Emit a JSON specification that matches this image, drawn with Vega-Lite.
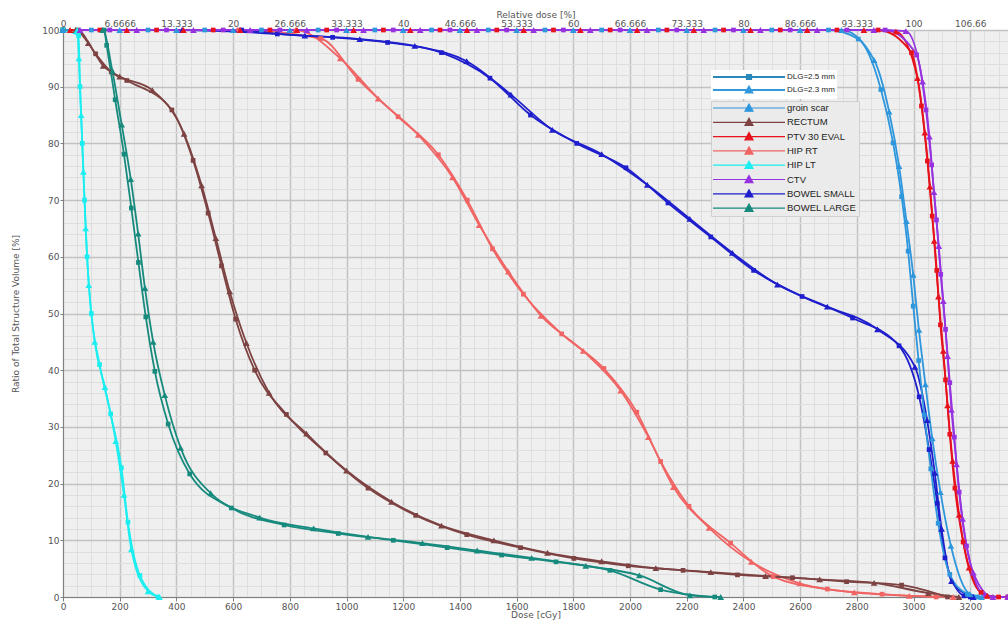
{
  "$schema": "https://vega.github.io/schema/vega-lite/v6.json",
  "width": 945,
  "height": 567,
  "autosize": {"type": "none"},
  "padding": {"left": 63, "top": 30, "right": 0, "bottom": 23},
  "background": "white",
  "config": {
    "view": {"fill": "#efefef", "stroke": null},
    "axis": {"labelFont": "DejaVu Sans", "titleFont": "DejaVu Sans", "labelFontSize": 9, "titleFontSize": 9, "labelColor": "#555555", "titleColor": "#555555", "titleFontWeight": "normal", "domainColor": "#808080", "tickColor": "#808080"},
    "legend": {"labelFont": "Liberation Sans"}
  },
  "data": {"values": [
    {"structure":"HIP RT","dlg":"DLG=2.3 mm","dose":0,"volume":100},
    {"structure":"HIP RT","dlg":"DLG=2.3 mm","dose":420,"volume":100},
    {"structure":"HIP RT","dlg":"DLG=2.3 mm","dose":820,"volume":100},
    {"structure":"HIP RT","dlg":"DLG=2.3 mm","dose":978,"volume":95},
    {"structure":"HIP RT","dlg":"DLG=2.3 mm","dose":1112,"volume":87.9},
    {"structure":"HIP RT","dlg":"DLG=2.3 mm","dose":1253,"volume":81.5},
    {"structure":"HIP RT","dlg":"DLG=2.3 mm","dose":1374,"volume":74},
    {"structure":"HIP RT","dlg":"DLG=2.3 mm","dose":1468,"volume":65.6},
    {"structure":"HIP RT","dlg":"DLG=2.3 mm","dose":1571,"volume":57.4},
    {"structure":"HIP RT","dlg":"DLG=2.3 mm","dose":1686,"volume":49.6},
    {"structure":"HIP RT","dlg":"DLG=2.3 mm","dose":1835,"volume":43.4},
    {"structure":"HIP RT","dlg":"DLG=2.3 mm","dose":1967,"volume":36.4},
    {"structure":"HIP RT","dlg":"DLG=2.3 mm","dose":2065,"volume":28.2},
    {"structure":"HIP RT","dlg":"DLG=2.3 mm","dose":2153,"volume":19.4},
    {"structure":"HIP RT","dlg":"DLG=2.3 mm","dose":2279,"volume":12.2},
    {"structure":"HIP RT","dlg":"DLG=2.3 mm","dose":2428,"volume":6.2},
    {"structure":"HIP RT","dlg":"DLG=2.3 mm","dose":2599,"volume":2.4},
    {"structure":"HIP RT","dlg":"DLG=2.3 mm","dose":2791,"volume":0.8},
    {"structure":"HIP RT","dlg":"DLG=2.3 mm","dose":2985,"volume":0.2},
    {"structure":"HIP RT","dlg":"DLG=2.3 mm","dose":3140,"volume":0},
    {"structure":"HIP RT","dlg":"DLG=2.5 mm","dose":0,"volume":100},
    {"structure":"HIP RT","dlg":"DLG=2.5 mm","dose":620,"volume":100},
    {"structure":"HIP RT","dlg":"DLG=2.5 mm","dose":909,"volume":98.5},
    {"structure":"HIP RT","dlg":"DLG=2.5 mm","dose":1041,"volume":91.3},
    {"structure":"HIP RT","dlg":"DLG=2.5 mm","dose":1182,"volume":84.7},
    {"structure":"HIP RT","dlg":"DLG=2.5 mm","dose":1324,"volume":78},
    {"structure":"HIP RT","dlg":"DLG=2.5 mm","dose":1426,"volume":70},
    {"structure":"HIP RT","dlg":"DLG=2.5 mm","dose":1515,"volume":61.4},
    {"structure":"HIP RT","dlg":"DLG=2.5 mm","dose":1624,"volume":53.4},
    {"structure":"HIP RT","dlg":"DLG=2.5 mm","dose":1759,"volume":46.4},
    {"structure":"HIP RT","dlg":"DLG=2.5 mm","dose":1908,"volume":40.3},
    {"structure":"HIP RT","dlg":"DLG=2.5 mm","dose":2024,"volume":32.6},
    {"structure":"HIP RT","dlg":"DLG=2.5 mm","dose":2108,"volume":23.9},
    {"structure":"HIP RT","dlg":"DLG=2.5 mm","dose":2208,"volume":16},
    {"structure":"HIP RT","dlg":"DLG=2.5 mm","dose":2355,"volume":9.5},
    {"structure":"HIP RT","dlg":"DLG=2.5 mm","dose":2505,"volume":3.6},
    {"structure":"HIP RT","dlg":"DLG=2.5 mm","dose":2696,"volume":1.4},
    {"structure":"HIP RT","dlg":"DLG=2.5 mm","dose":2889,"volume":0.5},
    {"structure":"HIP RT","dlg":"DLG=2.5 mm","dose":3080,"volume":0},
    {"structure":"BOWEL SMALL","dlg":"DLG=2.3 mm","dose":0,"volume":100},
    {"structure":"BOWEL SMALL","dlg":"DLG=2.3 mm","dose":420,"volume":100},
    {"structure":"BOWEL SMALL","dlg":"DLG=2.3 mm","dose":853,"volume":99},
    {"structure":"BOWEL SMALL","dlg":"DLG=2.3 mm","dose":1047,"volume":98.4},
    {"structure":"BOWEL SMALL","dlg":"DLG=2.3 mm","dose":1241,"volume":97.2},
    {"structure":"BOWEL SMALL","dlg":"DLG=2.3 mm","dose":1424,"volume":94.5},
    {"structure":"BOWEL SMALL","dlg":"DLG=2.3 mm","dose":1580,"volume":88.6},
    {"structure":"BOWEL SMALL","dlg":"DLG=2.3 mm","dose":1726,"volume":82.4},
    {"structure":"BOWEL SMALL","dlg":"DLG=2.3 mm","dose":1900,"volume":78.1},
    {"structure":"BOWEL SMALL","dlg":"DLG=2.3 mm","dose":2061,"volume":72.7},
    {"structure":"BOWEL SMALL","dlg":"DLG=2.3 mm","dose":2211,"volume":66.7},
    {"structure":"BOWEL SMALL","dlg":"DLG=2.3 mm","dose":2361,"volume":60.7},
    {"structure":"BOWEL SMALL","dlg":"DLG=2.3 mm","dose":2520,"volume":55.1},
    {"structure":"BOWEL SMALL","dlg":"DLG=2.3 mm","dose":2696,"volume":51.2},
    {"structure":"BOWEL SMALL","dlg":"DLG=2.3 mm","dose":2873,"volume":47.2},
    {"structure":"BOWEL SMALL","dlg":"DLG=2.3 mm","dose":3005,"volume":40.6},
    {"structure":"BOWEL SMALL","dlg":"DLG=2.3 mm","dose":3048,"volume":31.2},
    {"structure":"BOWEL SMALL","dlg":"DLG=2.3 mm","dose":3075,"volume":21.9},
    {"structure":"BOWEL SMALL","dlg":"DLG=2.3 mm","dose":3099,"volume":12},
    {"structure":"BOWEL SMALL","dlg":"DLG=2.3 mm","dose":3134,"volume":2.8},
    {"structure":"BOWEL SMALL","dlg":"DLG=2.3 mm","dose":3211,"volume":0},
    {"structure":"BOWEL SMALL","dlg":"DLG=2.5 mm","dose":0,"volume":100},
    {"structure":"BOWEL SMALL","dlg":"DLG=2.5 mm","dose":630,"volume":100},
    {"structure":"BOWEL SMALL","dlg":"DLG=2.5 mm","dose":756,"volume":99.3},
    {"structure":"BOWEL SMALL","dlg":"DLG=2.5 mm","dose":951,"volume":98.7},
    {"structure":"BOWEL SMALL","dlg":"DLG=2.5 mm","dose":1145,"volume":97.8},
    {"structure":"BOWEL SMALL","dlg":"DLG=2.5 mm","dose":1335,"volume":96},
    {"structure":"BOWEL SMALL","dlg":"DLG=2.5 mm","dose":1506,"volume":91.5},
    {"structure":"BOWEL SMALL","dlg":"DLG=2.5 mm","dose":1649,"volume":85},
    {"structure":"BOWEL SMALL","dlg":"DLG=2.5 mm","dose":1812,"volume":80},
    {"structure":"BOWEL SMALL","dlg":"DLG=2.5 mm","dose":1986,"volume":75.7},
    {"structure":"BOWEL SMALL","dlg":"DLG=2.5 mm","dose":2134,"volume":69.5},
    {"structure":"BOWEL SMALL","dlg":"DLG=2.5 mm","dose":2285,"volume":63.5},
    {"structure":"BOWEL SMALL","dlg":"DLG=2.5 mm","dose":2436,"volume":57.6},
    {"structure":"BOWEL SMALL","dlg":"DLG=2.5 mm","dose":2607,"volume":53},
    {"structure":"BOWEL SMALL","dlg":"DLG=2.5 mm","dose":2785,"volume":49.2},
    {"structure":"BOWEL SMALL","dlg":"DLG=2.5 mm","dose":2949,"volume":44.3},
    {"structure":"BOWEL SMALL","dlg":"DLG=2.5 mm","dose":3020,"volume":35.3},
    {"structure":"BOWEL SMALL","dlg":"DLG=2.5 mm","dose":3055,"volume":26},
    {"structure":"BOWEL SMALL","dlg":"DLG=2.5 mm","dose":3084,"volume":16.5},
    {"structure":"BOWEL SMALL","dlg":"DLG=2.5 mm","dose":3111,"volume":6.9},
    {"structure":"BOWEL SMALL","dlg":"DLG=2.5 mm","dose":3178,"volume":0.2},
    {"structure":"BOWEL SMALL","dlg":"DLG=2.5 mm","dose":3200,"volume":0},
    {"structure":"RECTUM","dlg":"DLG=2.3 mm","dose":0,"volume":100},
    {"structure":"RECTUM","dlg":"DLG=2.3 mm","dose":45,"volume":100},
    {"structure":"RECTUM","dlg":"DLG=2.3 mm","dose":89,"volume":97.7},
    {"structure":"RECTUM","dlg":"DLG=2.3 mm","dose":142,"volume":93.7},
    {"structure":"RECTUM","dlg":"DLG=2.3 mm","dose":200,"volume":91.8},
    {"structure":"RECTUM","dlg":"DLG=2.3 mm","dose":315,"volume":89.4},
    {"structure":"RECTUM","dlg":"DLG=2.3 mm","dose":427,"volume":81.7},
    {"structure":"RECTUM","dlg":"DLG=2.3 mm","dose":489,"volume":72.6},
    {"structure":"RECTUM","dlg":"DLG=2.3 mm","dose":539,"volume":63.3},
    {"structure":"RECTUM","dlg":"DLG=2.3 mm","dose":588,"volume":53.9},
    {"structure":"RECTUM","dlg":"DLG=2.3 mm","dose":647,"volume":44.8},
    {"structure":"RECTUM","dlg":"DLG=2.3 mm","dose":727,"volume":36},
    {"structure":"RECTUM","dlg":"DLG=2.3 mm","dose":859,"volume":28.8},
    {"structure":"RECTUM","dlg":"DLG=2.3 mm","dose":1000,"volume":22.3},
    {"structure":"RECTUM","dlg":"DLG=2.3 mm","dose":1159,"volume":16.8},
    {"structure":"RECTUM","dlg":"DLG=2.3 mm","dose":1335,"volume":12.6},
    {"structure":"RECTUM","dlg":"DLG=2.3 mm","dose":1520,"volume":10},
    {"structure":"RECTUM","dlg":"DLG=2.3 mm","dose":1709,"volume":7.8},
    {"structure":"RECTUM","dlg":"DLG=2.3 mm","dose":1900,"volume":6.3},
    {"structure":"RECTUM","dlg":"DLG=2.3 mm","dose":2091,"volume":5.1},
    {"structure":"RECTUM","dlg":"DLG=2.3 mm","dose":2285,"volume":4.4},
    {"structure":"RECTUM","dlg":"DLG=2.3 mm","dose":2478,"volume":3.7},
    {"structure":"RECTUM","dlg":"DLG=2.3 mm","dose":2669,"volume":3.1},
    {"structure":"RECTUM","dlg":"DLG=2.3 mm","dose":2861,"volume":2.5},
    {"structure":"RECTUM","dlg":"DLG=2.3 mm","dose":3052,"volume":0.7},
    {"structure":"RECTUM","dlg":"DLG=2.3 mm","dose":3160,"volume":0},
    {"structure":"RECTUM","dlg":"DLG=2.5 mm","dose":0,"volume":100},
    {"structure":"RECTUM","dlg":"DLG=2.5 mm","dose":50,"volume":100},
    {"structure":"RECTUM","dlg":"DLG=2.5 mm","dose":115,"volume":95.8},
    {"structure":"RECTUM","dlg":"DLG=2.5 mm","dose":170,"volume":92.6},
    {"structure":"RECTUM","dlg":"DLG=2.5 mm","dose":225,"volume":91.1},
    {"structure":"RECTUM","dlg":"DLG=2.5 mm","dose":384,"volume":85.9},
    {"structure":"RECTUM","dlg":"DLG=2.5 mm","dose":459,"volume":77},
    {"structure":"RECTUM","dlg":"DLG=2.5 mm","dose":512,"volume":67.7},
    {"structure":"RECTUM","dlg":"DLG=2.5 mm","dose":559,"volume":58.4},
    {"structure":"RECTUM","dlg":"DLG=2.5 mm","dose":609,"volume":49},
    {"structure":"RECTUM","dlg":"DLG=2.5 mm","dose":676,"volume":40},
    {"structure":"RECTUM","dlg":"DLG=2.5 mm","dose":788,"volume":32.2},
    {"structure":"RECTUM","dlg":"DLG=2.5 mm","dose":927,"volume":25.4},
    {"structure":"RECTUM","dlg":"DLG=2.5 mm","dose":1076,"volume":19.2},
    {"structure":"RECTUM","dlg":"DLG=2.5 mm","dose":1244,"volume":14.4},
    {"structure":"RECTUM","dlg":"DLG=2.5 mm","dose":1424,"volume":11},
    {"structure":"RECTUM","dlg":"DLG=2.5 mm","dose":1614,"volume":8.7},
    {"structure":"RECTUM","dlg":"DLG=2.5 mm","dose":1802,"volume":6.8},
    {"structure":"RECTUM","dlg":"DLG=2.5 mm","dose":1994,"volume":5.5},
    {"structure":"RECTUM","dlg":"DLG=2.5 mm","dose":2187,"volume":4.7},
    {"structure":"RECTUM","dlg":"DLG=2.5 mm","dose":2379,"volume":3.9},
    {"structure":"RECTUM","dlg":"DLG=2.5 mm","dose":2573,"volume":3.4},
    {"structure":"RECTUM","dlg":"DLG=2.5 mm","dose":2764,"volume":2.7},
    {"structure":"RECTUM","dlg":"DLG=2.5 mm","dose":2958,"volume":2.1},
    {"structure":"RECTUM","dlg":"DLG=2.5 mm","dose":3120,"volume":0},
    {"structure":"BOWEL LARGE","dlg":"DLG=2.3 mm","dose":0,"volume":100},
    {"structure":"BOWEL LARGE","dlg":"DLG=2.3 mm","dose":140,"volume":100},
    {"structure":"BOWEL LARGE","dlg":"DLG=2.3 mm","dose":174,"volume":92.8},
    {"structure":"BOWEL LARGE","dlg":"DLG=2.3 mm","dose":207,"volume":83.3},
    {"structure":"BOWEL LARGE","dlg":"DLG=2.3 mm","dose":239,"volume":73.7},
    {"structure":"BOWEL LARGE","dlg":"DLG=2.3 mm","dose":265,"volume":64.1},
    {"structure":"BOWEL LARGE","dlg":"DLG=2.3 mm","dose":289,"volume":54.5},
    {"structure":"BOWEL LARGE","dlg":"DLG=2.3 mm","dose":318,"volume":45},
    {"structure":"BOWEL LARGE","dlg":"DLG=2.3 mm","dose":359,"volume":35.6},
    {"structure":"BOWEL LARGE","dlg":"DLG=2.3 mm","dose":415,"volume":26.3},
    {"structure":"BOWEL LARGE","dlg":"DLG=2.3 mm","dose":521,"volume":18.3},
    {"structure":"BOWEL LARGE","dlg":"DLG=2.3 mm","dose":694,"volume":14},
    {"structure":"BOWEL LARGE","dlg":"DLG=2.3 mm","dose":884,"volume":12.1},
    {"structure":"BOWEL LARGE","dlg":"DLG=2.3 mm","dose":1076,"volume":10.6},
    {"structure":"BOWEL LARGE","dlg":"DLG=2.3 mm","dose":1268,"volume":9.5},
    {"structure":"BOWEL LARGE","dlg":"DLG=2.3 mm","dose":1461,"volume":8.2},
    {"structure":"BOWEL LARGE","dlg":"DLG=2.3 mm","dose":1653,"volume":6.9},
    {"structure":"BOWEL LARGE","dlg":"DLG=2.3 mm","dose":1844,"volume":5.5},
    {"structure":"BOWEL LARGE","dlg":"DLG=2.3 mm","dose":2033,"volume":3.8},
    {"structure":"BOWEL LARGE","dlg":"DLG=2.3 mm","dose":2211,"volume":0.3},
    {"structure":"BOWEL LARGE","dlg":"DLG=2.3 mm","dose":2320,"volume":0},
    {"structure":"BOWEL LARGE","dlg":"DLG=2.5 mm","dose":0,"volume":100},
    {"structure":"BOWEL LARGE","dlg":"DLG=2.5 mm","dose":145,"volume":100},
    {"structure":"BOWEL LARGE","dlg":"DLG=2.5 mm","dose":154,"volume":97.3},
    {"structure":"BOWEL LARGE","dlg":"DLG=2.5 mm","dose":184,"volume":87.7},
    {"structure":"BOWEL LARGE","dlg":"DLG=2.5 mm","dose":215,"volume":78.1},
    {"structure":"BOWEL LARGE","dlg":"DLG=2.5 mm","dose":241,"volume":68.6},
    {"structure":"BOWEL LARGE","dlg":"DLG=2.5 mm","dose":266,"volume":59},
    {"structure":"BOWEL LARGE","dlg":"DLG=2.5 mm","dose":292,"volume":49.4},
    {"structure":"BOWEL LARGE","dlg":"DLG=2.5 mm","dose":324,"volume":39.8},
    {"structure":"BOWEL LARGE","dlg":"DLG=2.5 mm","dose":371,"volume":30.5},
    {"structure":"BOWEL LARGE","dlg":"DLG=2.5 mm","dose":447,"volume":21.7},
    {"structure":"BOWEL LARGE","dlg":"DLG=2.5 mm","dose":594,"volume":15.7},
    {"structure":"BOWEL LARGE","dlg":"DLG=2.5 mm","dose":780,"volume":12.7},
    {"structure":"BOWEL LARGE","dlg":"DLG=2.5 mm","dose":971,"volume":11.2},
    {"structure":"BOWEL LARGE","dlg":"DLG=2.5 mm","dose":1165,"volume":10},
    {"structure":"BOWEL LARGE","dlg":"DLG=2.5 mm","dose":1355,"volume":8.7},
    {"structure":"BOWEL LARGE","dlg":"DLG=2.5 mm","dose":1547,"volume":7.4},
    {"structure":"BOWEL LARGE","dlg":"DLG=2.5 mm","dose":1739,"volume":6.2},
    {"structure":"BOWEL LARGE","dlg":"DLG=2.5 mm","dose":1929,"volume":4.7},
    {"structure":"BOWEL LARGE","dlg":"DLG=2.5 mm","dose":2108,"volume":1.3},
    {"structure":"BOWEL LARGE","dlg":"DLG=2.5 mm","dose":2299,"volume":0},
    {"structure":"HIP LT","dlg":"DLG=2.3 mm","dose":0,"volume":100},
    {"structure":"HIP LT","dlg":"DLG=2.3 mm","dose":50,"volume":100},
    {"structure":"HIP LT","dlg":"DLG=2.3 mm","dose":56,"volume":95},
    {"structure":"HIP LT","dlg":"DLG=2.3 mm","dose":64,"volume":85},
    {"structure":"HIP LT","dlg":"DLG=2.3 mm","dose":72,"volume":75},
    {"structure":"HIP LT","dlg":"DLG=2.3 mm","dose":80,"volume":65},
    {"structure":"HIP LT","dlg":"DLG=2.3 mm","dose":91,"volume":55},
    {"structure":"HIP LT","dlg":"DLG=2.3 mm","dose":112,"volume":45},
    {"structure":"HIP LT","dlg":"DLG=2.3 mm","dose":148,"volume":37},
    {"structure":"HIP LT","dlg":"DLG=2.3 mm","dose":186,"volume":27.5},
    {"structure":"HIP LT","dlg":"DLG=2.3 mm","dose":215,"volume":18},
    {"structure":"HIP LT","dlg":"DLG=2.3 mm","dose":241,"volume":8.4},
    {"structure":"HIP LT","dlg":"DLG=2.3 mm","dose":300,"volume":1},
    {"structure":"HIP LT","dlg":"DLG=2.3 mm","dose":340,"volume":0},
    {"structure":"HIP LT","dlg":"DLG=2.5 mm","dose":0,"volume":100},
    {"structure":"HIP LT","dlg":"DLG=2.5 mm","dose":55,"volume":99},
    {"structure":"HIP LT","dlg":"DLG=2.5 mm","dose":60,"volume":90},
    {"structure":"HIP LT","dlg":"DLG=2.5 mm","dose":68,"volume":80},
    {"structure":"HIP LT","dlg":"DLG=2.5 mm","dose":76,"volume":70},
    {"structure":"HIP LT","dlg":"DLG=2.5 mm","dose":85,"volume":60},
    {"structure":"HIP LT","dlg":"DLG=2.5 mm","dose":100,"volume":50},
    {"structure":"HIP LT","dlg":"DLG=2.5 mm","dose":129,"volume":41},
    {"structure":"HIP LT","dlg":"DLG=2.5 mm","dose":168,"volume":32.3},
    {"structure":"HIP LT","dlg":"DLG=2.5 mm","dose":206,"volume":22.8},
    {"structure":"HIP LT","dlg":"DLG=2.5 mm","dose":229,"volume":13.2},
    {"structure":"HIP LT","dlg":"DLG=2.5 mm","dose":271,"volume":3.8},
    {"structure":"HIP LT","dlg":"DLG=2.5 mm","dose":335,"volume":0},
    {"structure":"groin scar","dlg":"DLG=2.3 mm","dose":0,"volume":100},
    {"structure":"groin scar","dlg":"DLG=2.3 mm","dose":200,"volume":100},
    {"structure":"groin scar","dlg":"DLG=2.3 mm","dose":400,"volume":100},
    {"structure":"groin scar","dlg":"DLG=2.3 mm","dose":600,"volume":100},
    {"structure":"groin scar","dlg":"DLG=2.3 mm","dose":800,"volume":100},
    {"structure":"groin scar","dlg":"DLG=2.3 mm","dose":1000,"volume":100},
    {"structure":"groin scar","dlg":"DLG=2.3 mm","dose":1200,"volume":100},
    {"structure":"groin scar","dlg":"DLG=2.3 mm","dose":1400,"volume":100},
    {"structure":"groin scar","dlg":"DLG=2.3 mm","dose":1600,"volume":100},
    {"structure":"groin scar","dlg":"DLG=2.3 mm","dose":1800,"volume":100},
    {"structure":"groin scar","dlg":"DLG=2.3 mm","dose":2000,"volume":100},
    {"structure":"groin scar","dlg":"DLG=2.3 mm","dose":2200,"volume":100},
    {"structure":"groin scar","dlg":"DLG=2.3 mm","dose":2400,"volume":100},
    {"structure":"groin scar","dlg":"DLG=2.3 mm","dose":2600,"volume":100},
    {"structure":"groin scar","dlg":"DLG=2.3 mm","dose":2746,"volume":100},
    {"structure":"groin scar","dlg":"DLG=2.3 mm","dose":2861,"volume":94.7},
    {"structure":"groin scar","dlg":"DLG=2.3 mm","dose":2914,"volume":85.6},
    {"structure":"groin scar","dlg":"DLG=2.3 mm","dose":2949,"volume":76},
    {"structure":"groin scar","dlg":"DLG=2.3 mm","dose":2975,"volume":66.3},
    {"structure":"groin scar","dlg":"DLG=2.3 mm","dose":2999,"volume":56.8},
    {"structure":"groin scar","dlg":"DLG=2.3 mm","dose":3019,"volume":47.1},
    {"structure":"groin scar","dlg":"DLG=2.3 mm","dose":3042,"volume":37.5},
    {"structure":"groin scar","dlg":"DLG=2.3 mm","dose":3066,"volume":28},
    {"structure":"groin scar","dlg":"DLG=2.3 mm","dose":3095,"volume":18.5},
    {"structure":"groin scar","dlg":"DLG=2.3 mm","dose":3132,"volume":9},
    {"structure":"groin scar","dlg":"DLG=2.3 mm","dose":3199,"volume":0.5},
    {"structure":"groin scar","dlg":"DLG=2.3 mm","dose":3240,"volume":0},
    {"structure":"groin scar","dlg":"DLG=2.5 mm","dose":100,"volume":100},
    {"structure":"groin scar","dlg":"DLG=2.5 mm","dose":300,"volume":100},
    {"structure":"groin scar","dlg":"DLG=2.5 mm","dose":500,"volume":100},
    {"structure":"groin scar","dlg":"DLG=2.5 mm","dose":700,"volume":100},
    {"structure":"groin scar","dlg":"DLG=2.5 mm","dose":900,"volume":100},
    {"structure":"groin scar","dlg":"DLG=2.5 mm","dose":1100,"volume":100},
    {"structure":"groin scar","dlg":"DLG=2.5 mm","dose":1300,"volume":100},
    {"structure":"groin scar","dlg":"DLG=2.5 mm","dose":1500,"volume":100},
    {"structure":"groin scar","dlg":"DLG=2.5 mm","dose":1700,"volume":100},
    {"structure":"groin scar","dlg":"DLG=2.5 mm","dose":1900,"volume":100},
    {"structure":"groin scar","dlg":"DLG=2.5 mm","dose":2100,"volume":100},
    {"structure":"groin scar","dlg":"DLG=2.5 mm","dose":2300,"volume":100},
    {"structure":"groin scar","dlg":"DLG=2.5 mm","dose":2500,"volume":100},
    {"structure":"groin scar","dlg":"DLG=2.5 mm","dose":2700,"volume":100},
    {"structure":"groin scar","dlg":"DLG=2.5 mm","dose":2805,"volume":98.4},
    {"structure":"groin scar","dlg":"DLG=2.5 mm","dose":2885,"volume":89.5},
    {"structure":"groin scar","dlg":"DLG=2.5 mm","dose":2928,"volume":80.1},
    {"structure":"groin scar","dlg":"DLG=2.5 mm","dose":2958,"volume":70.6},
    {"structure":"groin scar","dlg":"DLG=2.5 mm","dose":2981,"volume":61},
    {"structure":"groin scar","dlg":"DLG=2.5 mm","dose":2999,"volume":51.3},
    {"structure":"groin scar","dlg":"DLG=2.5 mm","dose":3018,"volume":41.7},
    {"structure":"groin scar","dlg":"DLG=2.5 mm","dose":3038,"volume":32.1},
    {"structure":"groin scar","dlg":"DLG=2.5 mm","dose":3061,"volume":22.6},
    {"structure":"groin scar","dlg":"DLG=2.5 mm","dose":3087,"volume":13},
    {"structure":"groin scar","dlg":"DLG=2.5 mm","dose":3128,"volume":4},
    {"structure":"groin scar","dlg":"DLG=2.5 mm","dose":3190,"volume":0.5},
    {"structure":"groin scar","dlg":"DLG=2.5 mm","dose":3225,"volume":0},
    {"structure":"PTV 30 EVAL","dlg":"DLG=2.3 mm","dose":25,"volume":100},
    {"structure":"PTV 30 EVAL","dlg":"DLG=2.3 mm","dose":225,"volume":100},
    {"structure":"PTV 30 EVAL","dlg":"DLG=2.3 mm","dose":425,"volume":100},
    {"structure":"PTV 30 EVAL","dlg":"DLG=2.3 mm","dose":625,"volume":100},
    {"structure":"PTV 30 EVAL","dlg":"DLG=2.3 mm","dose":825,"volume":100},
    {"structure":"PTV 30 EVAL","dlg":"DLG=2.3 mm","dose":1025,"volume":100},
    {"structure":"PTV 30 EVAL","dlg":"DLG=2.3 mm","dose":1225,"volume":100},
    {"structure":"PTV 30 EVAL","dlg":"DLG=2.3 mm","dose":1425,"volume":100},
    {"structure":"PTV 30 EVAL","dlg":"DLG=2.3 mm","dose":1625,"volume":100},
    {"structure":"PTV 30 EVAL","dlg":"DLG=2.3 mm","dose":1825,"volume":100},
    {"structure":"PTV 30 EVAL","dlg":"DLG=2.3 mm","dose":2025,"volume":100},
    {"structure":"PTV 30 EVAL","dlg":"DLG=2.3 mm","dose":2225,"volume":100},
    {"structure":"PTV 30 EVAL","dlg":"DLG=2.3 mm","dose":2425,"volume":100},
    {"structure":"PTV 30 EVAL","dlg":"DLG=2.3 mm","dose":2625,"volume":100},
    {"structure":"PTV 30 EVAL","dlg":"DLG=2.3 mm","dose":2825,"volume":100},
    {"structure":"PTV 30 EVAL","dlg":"DLG=2.3 mm","dose":2938,"volume":99.7},
    {"structure":"PTV 30 EVAL","dlg":"DLG=2.3 mm","dose":3014,"volume":91.5},
    {"structure":"PTV 30 EVAL","dlg":"DLG=2.3 mm","dose":3040,"volume":81.9},
    {"structure":"PTV 30 EVAL","dlg":"DLG=2.3 mm","dose":3058,"volume":72.4},
    {"structure":"PTV 30 EVAL","dlg":"DLG=2.3 mm","dose":3073,"volume":62.8},
    {"structure":"PTV 30 EVAL","dlg":"DLG=2.3 mm","dose":3088,"volume":53},
    {"structure":"PTV 30 EVAL","dlg":"DLG=2.3 mm","dose":3105,"volume":43.4},
    {"structure":"PTV 30 EVAL","dlg":"DLG=2.3 mm","dose":3120,"volume":33.8},
    {"structure":"PTV 30 EVAL","dlg":"DLG=2.3 mm","dose":3138,"volume":24},
    {"structure":"PTV 30 EVAL","dlg":"DLG=2.3 mm","dose":3161,"volume":14.5},
    {"structure":"PTV 30 EVAL","dlg":"DLG=2.3 mm","dose":3196,"volume":5.2},
    {"structure":"PTV 30 EVAL","dlg":"DLG=2.3 mm","dose":3260,"volume":0.2},
    {"structure":"PTV 30 EVAL","dlg":"DLG=2.3 mm","dose":3333,"volume":0},
    {"structure":"PTV 30 EVAL","dlg":"DLG=2.5 mm","dose":130,"volume":100},
    {"structure":"PTV 30 EVAL","dlg":"DLG=2.5 mm","dose":330,"volume":100},
    {"structure":"PTV 30 EVAL","dlg":"DLG=2.5 mm","dose":530,"volume":100},
    {"structure":"PTV 30 EVAL","dlg":"DLG=2.5 mm","dose":730,"volume":100},
    {"structure":"PTV 30 EVAL","dlg":"DLG=2.5 mm","dose":930,"volume":100},
    {"structure":"PTV 30 EVAL","dlg":"DLG=2.5 mm","dose":1130,"volume":100},
    {"structure":"PTV 30 EVAL","dlg":"DLG=2.5 mm","dose":1330,"volume":100},
    {"structure":"PTV 30 EVAL","dlg":"DLG=2.5 mm","dose":1530,"volume":100},
    {"structure":"PTV 30 EVAL","dlg":"DLG=2.5 mm","dose":1730,"volume":100},
    {"structure":"PTV 30 EVAL","dlg":"DLG=2.5 mm","dose":1930,"volume":100},
    {"structure":"PTV 30 EVAL","dlg":"DLG=2.5 mm","dose":2130,"volume":100},
    {"structure":"PTV 30 EVAL","dlg":"DLG=2.5 mm","dose":2330,"volume":100},
    {"structure":"PTV 30 EVAL","dlg":"DLG=2.5 mm","dose":2530,"volume":100},
    {"structure":"PTV 30 EVAL","dlg":"DLG=2.5 mm","dose":2730,"volume":100},
    {"structure":"PTV 30 EVAL","dlg":"DLG=2.5 mm","dose":2875,"volume":100},
    {"structure":"PTV 30 EVAL","dlg":"DLG=2.5 mm","dose":2993,"volume":96},
    {"structure":"PTV 30 EVAL","dlg":"DLG=2.5 mm","dose":3028,"volume":86.6},
    {"structure":"PTV 30 EVAL","dlg":"DLG=2.5 mm","dose":3049,"volume":76.9},
    {"structure":"PTV 30 EVAL","dlg":"DLG=2.5 mm","dose":3066,"volume":67.2},
    {"structure":"PTV 30 EVAL","dlg":"DLG=2.5 mm","dose":3082,"volume":57.6},
    {"structure":"PTV 30 EVAL","dlg":"DLG=2.5 mm","dose":3095,"volume":48},
    {"structure":"PTV 30 EVAL","dlg":"DLG=2.5 mm","dose":3113,"volume":38.3},
    {"structure":"PTV 30 EVAL","dlg":"DLG=2.5 mm","dose":3128,"volume":28.7},
    {"structure":"PTV 30 EVAL","dlg":"DLG=2.5 mm","dose":3146,"volume":19.2},
    {"structure":"PTV 30 EVAL","dlg":"DLG=2.5 mm","dose":3175,"volume":9.7},
    {"structure":"PTV 30 EVAL","dlg":"DLG=2.5 mm","dose":3238,"volume":0.8},
    {"structure":"PTV 30 EVAL","dlg":"DLG=2.5 mm","dose":3300,"volume":0},
    {"structure":"PTV 30 EVAL","dlg":"DLG=2.5 mm","dose":3333,"volume":0},
    {"structure":"CTV","dlg":"DLG=2.3 mm","dose":60,"volume":100},
    {"structure":"CTV","dlg":"DLG=2.3 mm","dose":260,"volume":100},
    {"structure":"CTV","dlg":"DLG=2.3 mm","dose":460,"volume":100},
    {"structure":"CTV","dlg":"DLG=2.3 mm","dose":660,"volume":100},
    {"structure":"CTV","dlg":"DLG=2.3 mm","dose":860,"volume":100},
    {"structure":"CTV","dlg":"DLG=2.3 mm","dose":1060,"volume":100},
    {"structure":"CTV","dlg":"DLG=2.3 mm","dose":1260,"volume":100},
    {"structure":"CTV","dlg":"DLG=2.3 mm","dose":1460,"volume":100},
    {"structure":"CTV","dlg":"DLG=2.3 mm","dose":1660,"volume":100},
    {"structure":"CTV","dlg":"DLG=2.3 mm","dose":1860,"volume":100},
    {"structure":"CTV","dlg":"DLG=2.3 mm","dose":2060,"volume":100},
    {"structure":"CTV","dlg":"DLG=2.3 mm","dose":2260,"volume":100},
    {"structure":"CTV","dlg":"DLG=2.3 mm","dose":2460,"volume":100},
    {"structure":"CTV","dlg":"DLG=2.3 mm","dose":2660,"volume":100},
    {"structure":"CTV","dlg":"DLG=2.3 mm","dose":2860,"volume":100},
    {"structure":"CTV","dlg":"DLG=2.3 mm","dose":2973,"volume":99.8},
    {"structure":"CTV","dlg":"DLG=2.3 mm","dose":3032,"volume":90.9},
    {"structure":"CTV","dlg":"DLG=2.3 mm","dose":3056,"volume":81.2},
    {"structure":"CTV","dlg":"DLG=2.3 mm","dose":3072,"volume":71.4},
    {"structure":"CTV","dlg":"DLG=2.3 mm","dose":3089,"volume":61.9},
    {"structure":"CTV","dlg":"DLG=2.3 mm","dose":3105,"volume":52.2},
    {"structure":"CTV","dlg":"DLG=2.3 mm","dose":3120,"volume":42.5},
    {"structure":"CTV","dlg":"DLG=2.3 mm","dose":3134,"volume":33},
    {"structure":"CTV","dlg":"DLG=2.3 mm","dose":3152,"volume":23.4},
    {"structure":"CTV","dlg":"DLG=2.3 mm","dose":3173,"volume":13.8},
    {"structure":"CTV","dlg":"DLG=2.3 mm","dose":3211,"volume":4.3},
    {"structure":"CTV","dlg":"DLG=2.3 mm","dose":3280,"volume":0},
    {"structure":"CTV","dlg":"DLG=2.3 mm","dose":3333,"volume":0},
    {"structure":"CTV","dlg":"DLG=2.5 mm","dose":165,"volume":100},
    {"structure":"CTV","dlg":"DLG=2.5 mm","dose":365,"volume":100},
    {"structure":"CTV","dlg":"DLG=2.5 mm","dose":565,"volume":100},
    {"structure":"CTV","dlg":"DLG=2.5 mm","dose":765,"volume":100},
    {"structure":"CTV","dlg":"DLG=2.5 mm","dose":965,"volume":100},
    {"structure":"CTV","dlg":"DLG=2.5 mm","dose":1165,"volume":100},
    {"structure":"CTV","dlg":"DLG=2.5 mm","dose":1365,"volume":100},
    {"structure":"CTV","dlg":"DLG=2.5 mm","dose":1565,"volume":100},
    {"structure":"CTV","dlg":"DLG=2.5 mm","dose":1765,"volume":100},
    {"structure":"CTV","dlg":"DLG=2.5 mm","dose":1965,"volume":100},
    {"structure":"CTV","dlg":"DLG=2.5 mm","dose":2165,"volume":100},
    {"structure":"CTV","dlg":"DLG=2.5 mm","dose":2365,"volume":100},
    {"structure":"CTV","dlg":"DLG=2.5 mm","dose":2565,"volume":100},
    {"structure":"CTV","dlg":"DLG=2.5 mm","dose":2765,"volume":100},
    {"structure":"CTV","dlg":"DLG=2.5 mm","dose":2900,"volume":100},
    {"structure":"CTV","dlg":"DLG=2.5 mm","dose":3011,"volume":95.6},
    {"structure":"CTV","dlg":"DLG=2.5 mm","dose":3044,"volume":85.9},
    {"structure":"CTV","dlg":"DLG=2.5 mm","dose":3064,"volume":76.2},
    {"structure":"CTV","dlg":"DLG=2.5 mm","dose":3081,"volume":66.5},
    {"structure":"CTV","dlg":"DLG=2.5 mm","dose":3096,"volume":56.9},
    {"structure":"CTV","dlg":"DLG=2.5 mm","dose":3113,"volume":47.2},
    {"structure":"CTV","dlg":"DLG=2.5 mm","dose":3128,"volume":37.8},
    {"structure":"CTV","dlg":"DLG=2.5 mm","dose":3144,"volume":28.2},
    {"structure":"CTV","dlg":"DLG=2.5 mm","dose":3161,"volume":18.5},
    {"structure":"CTV","dlg":"DLG=2.5 mm","dose":3187,"volume":9},
    {"structure":"CTV","dlg":"DLG=2.5 mm","dose":3254,"volume":0.2},
    {"structure":"CTV","dlg":"DLG=2.5 mm","dose":3333,"volume":0}
  ]},
  "encoding": {
    "y": {
      "field": "volume", "type": "quantitative",
      "scale": {"domain": [0, 100], "nice": false},
      "axis": {
        "orient": "left",
        "values": [0,2,4,6,8,10,12,14,16,18,20,22,24,26,28,30,32,34,36,38,40,42,44,46,48,50,52,54,56,58,60,62,64,66,68,70,72,74,76,78,80,82,84,86,88,90,92,94,96,98,100],
        "labelExpr": "datum.value % 10 === 0 ? datum.label : ''",
        "title": "Ratio of Total Structure Volume [%]", "titleX": -48, "titleBaseline": "middle",
        "grid": true,
        "gridColor": {"condition": {"test": "datum.value % 10 === 0", "value": "#c2c2c2"}, "value": "#dedede"},
        "gridWidth": {"condition": {"test": "datum.value % 10 === 0", "value": 1.5}, "value": 1},
        "tickOpacity": {"condition": {"test": "datum.value % 10 === 0", "value": 1}, "value": 0},
        "tickSize": 3, "labelPadding": 1, "labelFlush": false, "labelOverlap": false
      }
    },
    "color": {
      "field": "structure", "type": "nominal",
      "scale": {
        "domain": ["groin scar", "RECTUM", "PTV 30 EVAL", "HIP RT", "HIP LT", "CTV", "BOWEL SMALL", "BOWEL LARGE"],
        "range": ["#2e96dc", "#7d4242", "#e6121c", "#f06464", "#1aeef0", "#9632e0", "#1e1ecc", "#178a7e"]
      },
      "legend": {
        "title": null, "orient": "none", "legendX": 648, "legendY": 71,
        "symbolType": "M-9,0H9M0,-1L1,0.8H-1Z", "symbolSize": 64, "symbolStrokeWidth": 1.2,
        "symbolStrokeColor": {"expr": "scale('color', datum.value)"},
        "symbolOffset": 31, "labelOffset": 33, "labelFont": "Liberation Sans", "labelFontSize": 9.5, "labelColor": "#222222",
        "rowPadding": 1.3, "padding": 2, "fillColor": "#ebebeb", "strokeColor": "#d0d0d0", "labelLimit": 0
      }
    }
  },
  "layer": [
    {
      "mark": {"type": "line", "interpolate": "monotone"},
      "encoding": {
        "x": {
          "field": "dose", "type": "quantitative",
          "scale": {"domain": [0, 3333.3], "nice": false, "zero": false},
          "axis": {
            "orient": "bottom",
            "values": [0,50,100,150,200,250,300,350,400,450,500,550,600,650,700,750,800,850,900,950,1000,1050,1100,1150,1200,1250,1300,1350,1400,1450,1500,1550,1600,1650,1700,1750,1800,1850,1900,1950,2000,2050,2100,2150,2200,2250,2300,2350,2400,2450,2500,2550,2600,2650,2700,2750,2800,2850,2900,2950,3000,3050,3100,3150,3200,3250,3300],
            "format": "d",
            "labelExpr": "datum.value % 200 === 0 ? datum.label : ''",
            "title": "Dose [cGy]", "titleY": 20, "titleBaseline": "alphabetic",
            "grid": true,
            "gridColor": {"condition": {"test": "datum.value % 200 === 0", "value": "#c2c2c2"}, "value": "#dedede"},
            "gridWidth": {"condition": {"test": "datum.value % 200 === 0", "value": 1.5}, "value": 1},
            "tickOpacity": {"condition": {"test": "datum.value % 200 === 0", "value": 1}, "value": 0},
            "tickSize": 4, "labelPadding": 1, "labelFlush": false, "labelOverlap": false
          }
        },
        "detail": {"field": "dlg", "type": "nominal"},
        "strokeWidth": {
          "field": "dlg", "type": "ordinal",
          "scale": {"domain": ["DLG=2.5 mm", "DLG=2.3 mm"], "range": [1.8, 1.8]},
          "legend": {
            "title": null, "orient": "none", "legendX": 648, "legendY": 40,
            "symbolType": {"expr": "datum.value == 'DLG=2.5 mm' ? 'M-9,0H9M-0.55,-0.55H0.55V0.55H-0.55Z' : 'M-9,0H9M0,-0.85L0.85,0.65H-0.85Z'"},
            "symbolSize": 64, "symbolOffset": 31, "labelOffset": 33,
            "symbolStrokeColor": {"expr": "datum.value == 'DLG=2.5 mm' ? '#2a88b8' : '#3399dd'"},
            "symbolFillColor": "#2e8fd0", "symbolStrokeWidth": 1.2,
            "labelFont": "Liberation Sans", "labelFontSize": 8, "labelColor": "#222222",
            "rowPadding": 0, "padding": 2, "fillColor": "#ffffff", "labelLimit": 0
          }
        }
      }
    },
    {
      "encoding": {
        "x": {
          "field": "dose", "type": "quantitative",
          "scale": {"domain": [0, 3333.3], "nice": false, "zero": false},
          "axis": {
            "orient": "top",
            "values": [0,200,400,600,800,1000,1200,1400,1600,1800,2000,2200,2400,2600,2800,3000,3200],
            "labelExpr": "substring(toString(datum.value / 30), 0, 6)",
            "title": "Relative dose [%]", "titleY": -13, "titleBaseline": "alphabetic",
            "grid": false, "ticks": false, "domain": false,
            "labelPadding": 4, "labelBaseline": "alphabetic", "labelFlush": false, "labelOverlap": false
          }
        }
      },
      "layer": [
        {
          "transform": [{"filter": "datum.dlg == 'DLG=2.5 mm'"}],
          "mark": {"type": "point", "shape": "square", "filled": true, "size": 22, "opacity": 1}
        },
        {
          "transform": [{"filter": "datum.dlg == 'DLG=2.3 mm'"}],
          "mark": {"type": "point", "shape": "triangle-up", "filled": true, "size": 45, "opacity": 1}
        }
      ]
    }
  ]
}
